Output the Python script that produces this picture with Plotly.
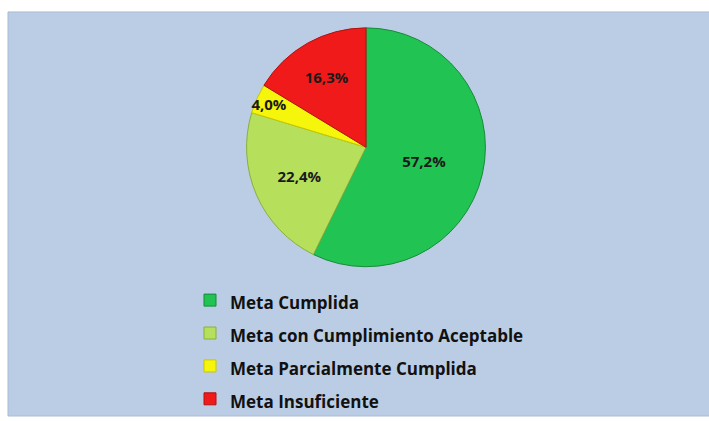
import plotly.graph_objects as go

# Slice data (clockwise from 12 o'clock)
labels = [
    "Meta Cumplida",
    "Meta con Cumplimiento Aceptable",
    "Meta Parcialmente Cumplida",
    "Meta Insuficiente",
]
values = [57.2, 22.4, 4.0, 16.3]
colors = ["#21C452", "#B6E05C", "#F6F50C", "#F01A1A"]
edge_colors = ["#178A3A", "#8AAE3E", "#C9C700", "#B01212"]

W, H = 709, 421
cx, cy, r = 366, 148, 120

# Legend labels drawn at 17px while the legend font stays large for row spacing
legend_labels = ["<span style='font-size:17px'>" + s + "</span>" for s in labels]

fig = go.Figure()
fig.add_trace(
    go.Pie(
        labels=legend_labels,
        values=values,
        sort=False,
        direction="clockwise",
        rotation=0,
        marker=dict(colors=colors, line=dict(color=edge_colors, width=1)),
        texttemplate="%{value:.1f}%",
        textposition="inside",
        insidetextorientation="horizontal",
        textfont=dict(family="Open Sans", size=15, color="#1a1a1a", weight="bold"),
        domain=dict(
            x=[(cx - r) / W, (cx + r) / W],
            y=[1 - (cy + r) / H, 1 - (cy - r) / H],
        ),
        hoverinfo="label+value",
    )
)

# Light blue chart panel, leaving a white strip at the left, top and bottom
fig.add_shape(
    type="rect",
    xref="paper",
    yref="paper",
    x0=8 / W,
    x1=1.02,
    y0=3 / H,
    y1=1 - 12 / H,
    fillcolor="#BACDE4",
    line=dict(color="#A9BCD4", width=1),
    layer="below",
)

fig.update_layout(
    width=W,
    height=H,
    margin=dict(l=0, r=0, t=0, b=0),
    paper_bgcolor="white",
    plot_bgcolor="white",
    separators=",.",
    showlegend=True,
    uniformtext=dict(minsize=14, mode="show"),
    legend=dict(
        x=190 / W,
        xanchor="left",
        y=1 - 280 / H,
        yanchor="top",
        bgcolor="rgba(0,0,0,0)",
        font=dict(family="Open Sans", size=23, color="#111111", weight="bold"),
        itemwidth=30,
    ),
)

# Drop the page margin so the figure fills the window exactly
fig.write_html(
    "out.html",
    config={"displayModeBar": False},
    post_script="document.body.style.margin='0';",
)
